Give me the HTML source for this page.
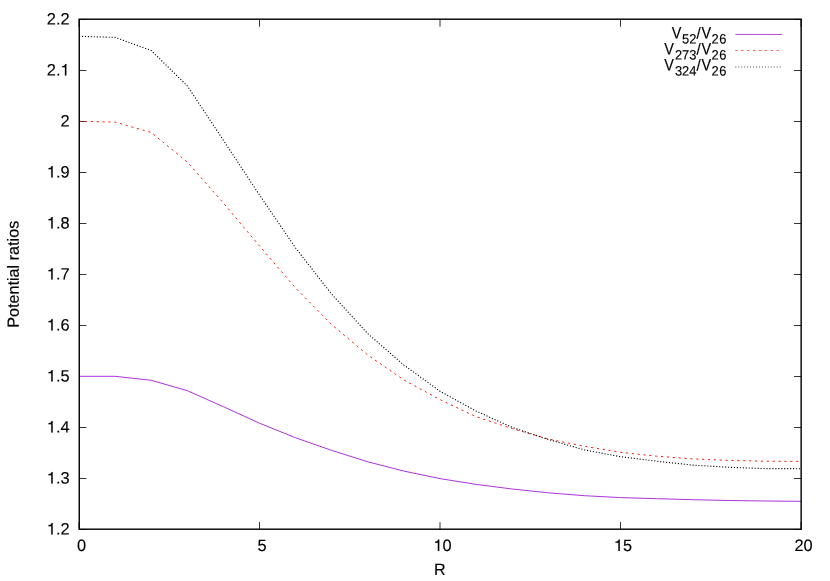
<!DOCTYPE html>
<html><head><meta charset="utf-8"><title>Potential ratios</title>
<style>
html,body{margin:0;padding:0;background:#fff;}
body{width:830px;height:581px;overflow:hidden;}
svg{display:block;will-change:transform;}
text{font-family:"Liberation Sans",sans-serif;fill:#000;stroke:#000;stroke-width:0.14px;}
.one{fill:#000;stroke:#000;stroke-width:0.14px;}
</style></head><body>
<svg width="830" height="581" viewBox="0 0 830 581">
<rect x="0" y="0" width="830" height="581" fill="#ffffff"/>

<g stroke="#000" stroke-width="0.8" fill="none">
<path d="M79.25,529.50 h7.15 M801.15,529.50 h-7.15"/>
<path d="M79.25,478.50 h7.15 M801.15,478.50 h-7.15"/>
<path d="M79.25,427.50 h7.15 M801.15,427.50 h-7.15"/>
<path d="M801.15,376.50 h-7.15"/>
<path d="M79.25,325.50 h7.15 M801.15,325.50 h-7.15"/>
<path d="M79.25,274.50 h7.15 M801.15,274.50 h-7.15"/>
<path d="M79.25,223.50 h7.15 M801.15,223.50 h-7.15"/>
<path d="M79.25,172.50 h7.15 M801.15,172.50 h-7.15"/>
<path d="M79.25,121.50 h7.15 M801.15,121.50 h-7.15"/>
<path d="M79.25,70.50 h7.15 M801.15,70.50 h-7.15"/>
<path d="M79.25,19.50 h7.15 M801.15,19.50 h-7.15"/>
<path d="M79.00,529.20 V522.1 M79.00,19.20 V26.75"/>
<path d="M259.50,529.20 V522.1 M259.50,19.20 V26.75"/>
<path d="M440.00,529.20 V522.1 M440.00,19.20 V26.75"/>
<path d="M620.50,529.20 V522.1 M620.50,19.20 V26.75"/>
<path d="M801.00,529.20 V522.1 M801.00,19.20 V26.75"/>
</g>
<polyline points="79.00,376.30 115.10,376.30 151.20,380.30 187.30,390.70 223.40,406.70 259.50,423.20 295.60,437.80 331.70,450.40 367.80,461.80 403.90,471.10 440.00,478.60 476.10,484.40 512.20,489.00 548.30,492.80 584.40,495.70 620.50,497.60 656.60,498.70 692.70,499.70 728.80,500.50 764.90,501.00 801.00,501.30" fill="none" stroke="#9400d3" stroke-width="0.8"/>
<polyline points="79.00,121.30 115.10,122.10 151.20,132.50 187.30,162.00 223.40,203.00 259.50,246.00 295.60,288.00 331.70,324.60 367.80,355.10 403.90,380.00 440.00,399.60 476.10,416.70 512.20,428.60 548.30,439.00 584.40,446.30 620.50,452.30 656.60,456.20 692.70,458.90 728.80,460.40 764.90,461.20 801.00,461.40" fill="none" stroke="#ea2410" stroke-width="1.0" stroke-dasharray="2.2 3.68"/>
<polyline points="79.00,36.30 115.10,37.40 151.20,50.50 187.30,85.90 223.40,140.30 259.50,195.00 295.60,248.00 331.70,294.20 367.80,333.70 403.90,365.10 440.00,391.20 476.10,411.10 512.20,427.40 548.30,439.50 584.40,449.90 620.50,456.70 656.60,461.20 692.70,465.10 728.80,467.30 764.90,468.60 801.00,468.70" fill="none" stroke="#000" stroke-width="1.12" stroke-dasharray="1.1 1.86"/>
<path d="M735.4,34.45 H782.0" stroke="#9400d3" stroke-width="0.7" fill="none"/>
<path d="M735.3,50.5 H782.0" stroke="#e62a16" stroke-width="0.68" fill="none" stroke-dasharray="2.4 3.48"/>
<path d="M735.3,67.0 H782.0" stroke="#000" stroke-width="0.68" fill="none" stroke-dasharray="1.05 1.905"/>
<rect x="79.25" y="19.20" width="721.90" height="510.00" fill="none" stroke="#000" stroke-width="1.42"/>
<path class="one" d="M52.69,534.50 L51.25,534.50 L51.25,526.30 L48.46,526.30 L48.46,525.22 C49.84,525.15 51.26,524.46 51.69,522.97 L52.69,522.97 Z"/><text font-size="16.4" text-anchor="start" transform="translate(55.92,534.50) rotate(0.04) scale(1,1)" >.</text><text font-size="16.4" text-anchor="start" transform="translate(60.48,534.50) rotate(0.04) scale(1,1)" >2</text>
<path class="one" d="M52.69,483.50 L51.25,483.50 L51.25,475.30 L48.46,475.30 L48.46,474.22 C49.84,474.15 51.26,473.46 51.69,471.97 L52.69,471.97 Z"/><text font-size="16.4" text-anchor="start" transform="translate(55.92,483.50) rotate(0.04) scale(1,1)" >.</text><text font-size="16.4" text-anchor="start" transform="translate(60.48,483.50) rotate(0.04) scale(1,1)" >3</text>
<path class="one" d="M52.69,432.50 L51.25,432.50 L51.25,424.30 L48.46,424.30 L48.46,423.22 C49.84,423.15 51.26,422.46 51.69,420.97 L52.69,420.97 Z"/><text font-size="16.4" text-anchor="start" transform="translate(55.92,432.50) rotate(0.04) scale(1,1)" >.</text><text font-size="16.4" text-anchor="start" transform="translate(60.48,432.50) rotate(0.04) scale(1,1)" >4</text>
<path class="one" d="M52.69,381.50 L51.25,381.50 L51.25,373.30 L48.46,373.30 L48.46,372.22 C49.84,372.15 51.26,371.46 51.69,369.97 L52.69,369.97 Z"/><text font-size="16.4" text-anchor="start" transform="translate(55.92,381.50) rotate(0.04) scale(1,1)" >.</text><text font-size="16.4" text-anchor="start" transform="translate(60.48,381.50) rotate(0.04) scale(1,1)" >5</text>
<path class="one" d="M52.69,330.50 L51.25,330.50 L51.25,322.30 L48.46,322.30 L48.46,321.22 C49.84,321.15 51.26,320.46 51.69,318.97 L52.69,318.97 Z"/><text font-size="16.4" text-anchor="start" transform="translate(55.92,330.50) rotate(0.04) scale(1,1)" >.</text><text font-size="16.4" text-anchor="start" transform="translate(60.48,330.50) rotate(0.04) scale(1,1)" >6</text>
<path class="one" d="M52.69,279.50 L51.25,279.50 L51.25,271.30 L48.46,271.30 L48.46,270.22 C49.84,270.15 51.26,269.46 51.69,267.97 L52.69,267.97 Z"/><text font-size="16.4" text-anchor="start" transform="translate(55.92,279.50) rotate(0.04) scale(1,1)" >.</text><text font-size="16.4" text-anchor="start" transform="translate(60.48,279.50) rotate(0.04) scale(1,1)" >7</text>
<path class="one" d="M52.69,228.50 L51.25,228.50 L51.25,220.30 L48.46,220.30 L48.46,219.22 C49.84,219.15 51.26,218.46 51.69,216.97 L52.69,216.97 Z"/><text font-size="16.4" text-anchor="start" transform="translate(55.92,228.50) rotate(0.04) scale(1,1)" >.</text><text font-size="16.4" text-anchor="start" transform="translate(60.48,228.50) rotate(0.04) scale(1,1)" >8</text>
<path class="one" d="M52.69,177.50 L51.25,177.50 L51.25,169.30 L48.46,169.30 L48.46,168.22 C49.84,168.15 51.26,167.46 51.69,165.97 L52.69,165.97 Z"/><text font-size="16.4" text-anchor="start" transform="translate(55.92,177.50) rotate(0.04) scale(1,1)" >.</text><text font-size="16.4" text-anchor="start" transform="translate(60.48,177.50) rotate(0.04) scale(1,1)" >9</text>
<text font-size="16.4" text-anchor="start" transform="translate(60.48,126.50) rotate(0.04) scale(1,1)" >2</text>
<path class="one" d="M66.37,75.50 L64.93,75.50 L64.93,67.30 L62.14,67.30 L62.14,66.22 C63.52,66.15 64.94,65.46 65.37,63.97 L66.37,63.97 Z"/><text font-size="16.4" text-anchor="start" transform="translate(46.80,75.50) rotate(0.04) scale(1,1)" >2</text><text font-size="16.4" text-anchor="start" transform="translate(55.92,75.50) rotate(0.04) scale(1,1)" >.</text>
<text font-size="16.4" text-anchor="start" transform="translate(46.80,24.50) rotate(0.04) scale(1,1)" >2</text><text font-size="16.4" text-anchor="start" transform="translate(55.92,24.50) rotate(0.04) scale(1,1)" >.</text><text font-size="16.4" text-anchor="start" transform="translate(60.48,24.50) rotate(0.04) scale(1,1)" >2</text>
<text font-size="16.4" text-anchor="start" transform="translate(76.94,551.00) rotate(0.04) scale(1,1)" >0</text>
<text font-size="16.4" text-anchor="start" transform="translate(257.44,551.00) rotate(0.04) scale(1,1)" >5</text>
<path class="one" d="M439.27,551.00 L437.83,551.00 L437.83,542.80 L435.04,542.80 L435.04,541.72 C436.42,541.65 437.84,540.96 438.27,539.47 L439.27,539.47 Z"/><text font-size="16.4" text-anchor="start" transform="translate(442.50,551.00) rotate(0.04) scale(1,1)" >0</text>
<path class="one" d="M619.77,551.00 L618.33,551.00 L618.33,542.80 L615.54,542.80 L615.54,541.72 C616.92,541.65 618.34,540.96 618.77,539.47 L619.77,539.47 Z"/><text font-size="16.4" text-anchor="start" transform="translate(623.00,551.00) rotate(0.04) scale(1,1)" >5</text>
<text font-size="16.4" text-anchor="start" transform="translate(794.38,551.00) rotate(0.04) scale(1,1)" >2</text><text font-size="16.4" text-anchor="start" transform="translate(803.50,551.00) rotate(0.04) scale(1,1)" >0</text>
<text font-size="16.4" text-anchor="start" transform="translate(433.99,574.90) rotate(0.04) scale(0.98,1)" >R</text>
<text font-size="16.2" text-anchor="middle" transform="translate(18.65,274.3) rotate(-90.04)">Potential ratios</text>
<text font-size="16.8" text-anchor="start" transform="translate(671.73,38.45) rotate(0.04) scale(0.86,1)" >V</text><text font-size="13.6" text-anchor="start" transform="translate(682.00,43.40) rotate(0.04) scale(0.95,1)" >52</text><text font-size="16.8" text-anchor="start" transform="translate(696.50,38.45) rotate(0.04) scale(0.9,0.95)" >/</text><text font-size="16.8" text-anchor="start" transform="translate(701.53,38.45) rotate(0.04) scale(0.86,1)" >V</text><text font-size="13.6" text-anchor="start" transform="translate(711.60,43.40) rotate(0.04) scale(0.95,1)" letter-spacing="0.5">26</text>
<text font-size="16.8" text-anchor="start" transform="translate(664.23,54.45) rotate(0.04) scale(0.86,1)" >V</text><text font-size="13.6" text-anchor="start" transform="translate(674.90,59.40) rotate(0.04) scale(0.95,1)" >273</text><text font-size="16.8" text-anchor="start" transform="translate(696.50,54.45) rotate(0.04) scale(0.9,0.95)" >/</text><text font-size="16.8" text-anchor="start" transform="translate(701.53,54.45) rotate(0.04) scale(0.86,1)" >V</text><text font-size="13.6" text-anchor="start" transform="translate(711.60,59.40) rotate(0.04) scale(0.95,1)" letter-spacing="0.5">26</text>
<text font-size="16.8" text-anchor="start" transform="translate(664.23,70.45) rotate(0.04) scale(0.86,1)" >V</text><text font-size="13.6" text-anchor="start" transform="translate(674.90,75.40) rotate(0.04) scale(0.95,1)" >324</text><text font-size="16.8" text-anchor="start" transform="translate(696.50,70.45) rotate(0.04) scale(0.9,0.95)" >/</text><text font-size="16.8" text-anchor="start" transform="translate(701.53,70.45) rotate(0.04) scale(0.86,1)" >V</text><text font-size="13.6" text-anchor="start" transform="translate(711.60,75.40) rotate(0.04) scale(0.95,1)" letter-spacing="0.5">26</text>
</svg></body></html>
